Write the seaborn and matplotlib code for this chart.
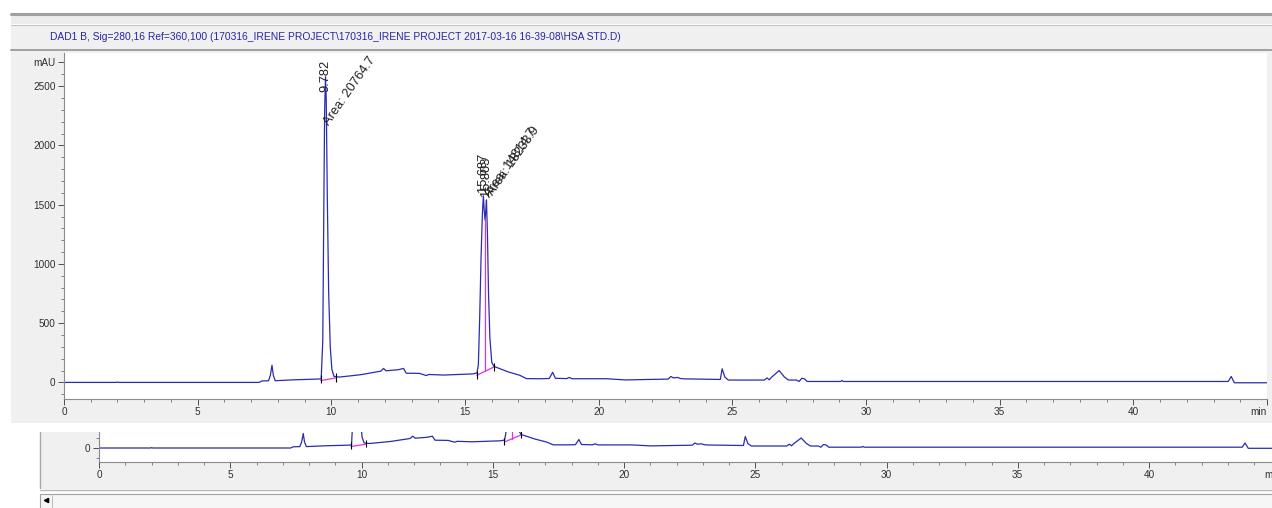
import matplotlib
matplotlib.use("Agg")
import matplotlib.pyplot as plt
import pandas as pd
import seaborn as sns
from matplotlib.patches import Rectangle
from matplotlib.lines import Line2D
from matplotlib.ticker import MultipleLocator

tiempo = [0.0, 1.95, 2.0, 2.05, 7.3, 7.4, 7.65, 7.72, 7.78, 7.83, 7.9, 8.6, 9.45,
          9.62, 9.68, 9.72, 9.75, 9.782, 9.81, 9.85, 9.9, 9.96, 10.02, 10.1, 10.3,
          11.1, 11.85, 11.95, 12.05, 12.5, 12.7, 12.8, 13.3, 13.55, 13.65, 14.2,
          15.3, 15.45, 15.5, 15.55, 15.6, 15.65, 15.687, 15.72, 15.75, 15.78, 15.803,
          15.84, 15.88, 15.93, 16.0, 16.08, 16.2, 16.6, 17.05, 17.3, 17.8, 18.15,
          18.28, 18.38, 18.8, 18.9, 19.0, 20.3, 21.0, 21.9, 22.6, 22.7, 22.8, 22.95,
          23.05, 23.2, 24.55, 24.62, 24.72, 24.85, 26.2, 26.3, 26.38, 26.45, 26.75,
          26.95, 27.1, 27.4, 27.5, 27.6, 27.7, 27.8, 29.05, 29.1, 29.15, 43.55,
          43.66, 43.78, 45.0]
absorbancia = [0, 0, 3, 0, 0, 12, 14, 60, 145, 60, 14, 22, 28,
               30, 350, 1500, 2300, 2580, 2380, 1550, 760, 300, 110, 50, 45,
               65, 95, 118, 98, 107, 118, 78, 76, 58, 67, 62,
               72, 80, 150, 550, 1050, 1420, 1575, 1450, 1370, 1460, 1540,
               1250, 750, 380, 170, 135, 125, 90, 60, 32, 31, 33,
               85, 35, 32, 42, 31, 31, 21, 25, 28, 50, 38, 42,
               33, 30, 25, 115, 45, 20, 20, 38, 22, 40, 100,
               45, 20, 20, 8, 35, 30, 8, 8, 16, 8, 8,
               50, -3, -3]

# picos integrados
picos_rt = [9.782, 15.687, 15.803]
picos_altura = [2580, 1575, 1540]
picos_area = [20764.7, 14814.7, 18233.9]

# lineas base de integracion (inicio, fin) y marcas
base_t = [(9.6, 10.17), (15.44, 16.08)]
base_v = [(15, 38), (60, 130)]
corte_t = 15.75
corte_v = (95, 1370)
marcas_t = [9.6, 10.17, 15.44, 16.08]
marcas_v = [30, 42, 65, 132]

x_ticks = [0, 5, 10, 15, 20, 25, 30, 35, 40]
y_ticks = [0, 500, 1000, 1500, 2000, 2500]

titulo = ("DAD1 B, Sig=280,16 Ref=360,100 (170316_IRENE PROJECT\\170316_IRENE PROJECT "
          "2017-03-16 16-39-08\\HSA STD.D)")

df = pd.DataFrame({"tiempo": tiempo, "mAU": absorbancia})

sns.set_theme(style="ticks")
estrecha = ["Liberation Sans Narrow", "Liberation Sans", "DejaVu Sans"]
normal = ["Liberation Sans", "DejaVu Sans"]
plt.rcParams["font.family"] = estrecha

azul = "#2b2bb0"
magenta = "#e030e0"

W, H = 1272, 508
fig = plt.figure(figsize=(W / 100, H / 100), dpi=100)
fig.patch.set_facecolor("white")


def caja(x0, y0, x1, y1, color, edge="none"):
    fig.add_artist(Rectangle((x0 / W, 1 - y1 / H), (x1 - x0) / W, (y1 - y0) / H,
                             transform=fig.transFigure, facecolor=color,
                             edgecolor=edge, lw=0.8, zorder=-2))


def linea(x0, y0, x1, y1, color, lw=1.0):
    fig.add_artist(Line2D([x0 / W, x1 / W], [1 - y0 / H, 1 - y1 / H],
                          transform=fig.transFigure, color=color, lw=lw, zorder=-1))


# marco tipo ventana
caja(11, 15, W, 24, "#ececec")
linea(11, 13.5, W, 13.5, "#a0a0a0", 2.2)
linea(11, 24.5, W, 24.5, "#c4c4c4", 0.8)
caja(11, 25, W, 49, "#f0f0f0")
linea(11, 50, W, 50, "#a0a0a0", 1.4)
caja(11, 51, W, 423, "#f0f0f0")
caja(40, 432, W, 489, "#f0f0f0")
linea(40, 432, 40, 488, "#a8a8a8", 1.0)
linea(40, 489.5, W, 489.5, "#b8b8b8", 1.0)
caja(40, 494, W + 2, 509, "#f6f6f6", edge="#a0a0a0")
linea(52, 494, 52, 508, "#c0c0c0", 0.8)
fig.add_artist(Line2D([46 / W], [1 - 500 / H], transform=fig.transFigure,
                      marker="<", ms=3, color="black", lw=0))

fig.text(50 / W, 1 - 37 / H, titulo, color="#2626a8", fontsize=7.4,
         ha="left", va="center", family=estrecha)


def estilo(ax):
    ax.set_facecolor("white")
    for lado in ["top", "right"]:
        ax.spines[lado].set_visible(False)
    for lado in ["left", "bottom"]:
        ax.spines[lado].set_color("#8a8a8a")
        ax.spines[lado].set_linewidth(0.8)
    ax.tick_params(which="major", length=4, width=0.7, color="#505050",
                   labelsize=7.2, labelcolor="#303030", pad=2)
    ax.tick_params(which="minor", length=2.2, width=0.6, color="#707070")
    ax.xaxis.set_minor_locator(MultipleLocator(1))
    ax.set_xlabel("")
    ax.set_ylabel("")


def trazo(ax):
    sns.lineplot(data=df, x="tiempo", y="mAU", ax=ax, color=azul, lw=0.9,
                 sort=False, estimator=None)
    for (t0, t1), (v0, v1) in zip(base_t, base_v):
        ax.plot([t0, t1], [v0, v1], color=magenta, lw=0.9)
    ax.plot([corte_t, corte_t], list(corte_v), color=magenta, lw=0.9)
    ax.vlines(marcas_t, [v - 35 for v in marcas_v], [v + 35 for v in marcas_v],
              color="black", lw=0.8)


# panel principal
ax = fig.add_axes([64 / W, 1 - 399 / H, (1267 - 64) / W, (399 - 53) / H])
trazo(ax)
ax.set_xlim(0, 45)
ax.set_ylim(-140, 2780)
estilo(ax)
ax.set_xticks(x_ticks + [45], [str(v) for v in x_ticks] + ["min"])
ax.get_xticklabels()[-1].set_horizontalalignment("right")
ax.set_yticks(y_ticks + [2700], [str(v) for v in y_ticks] + ["mAU"])
ax.yaxis.set_minor_locator(MultipleLocator(100))

# etiquetas de los picos
for rt, alt in zip(picos_rt, picos_altura):
    ax.text(rt, alt - 130 if rt < 10 else alt + 30, f"{rt:.3f}", rotation=90,
            ha="center", va="bottom", fontsize=9.3, color="#202020", family=normal)
area_pos = [(9.83, 2180), (15.86, 1570), (15.95, 1590)]
for (xa, ya), area in zip(area_pos, picos_area):
    ax.text(xa, ya, f"Area: {area}", rotation=55, rotation_mode="anchor",
            ha="left", va="center", fontsize=9.3, color="#202020", family=normal)

# panel de vista general
ax2 = fig.add_axes([99 / W, 1 - 462 / H, 45 * 26.25 / W, 30 / H])
trazo(ax2)
ax2.set_xlim(0, 45)
ax2.set_ylim(-140, 160)
estilo(ax2)
ax2.set_xticks(x_ticks + [45], [str(v) for v in x_ticks] + ["min"])
ax2.get_xticklabels()[-1].set_horizontalalignment("right")
ax2.set_yticks([0], ["0"])
ax2.set_yticks([-100, 100], minor=True)

fig.savefig("out.png", dpi=100)
